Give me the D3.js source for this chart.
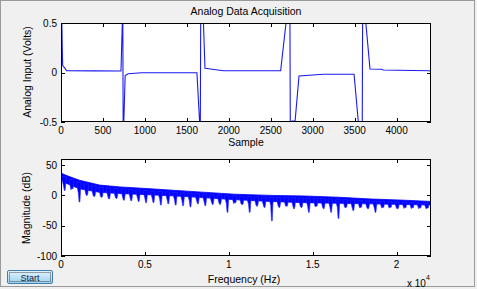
<!DOCTYPE html>
<html><head><meta charset="utf-8">
<script src="https://cdn.jsdelivr.net/npm/d3@7"></script>
<style>
html,body{margin:0;padding:0;background:#f0f0f0;}
svg{display:block;font-family:"Liberation Sans",Arial,sans-serif;}
</style></head><body>
<script>
// ---- data ----
const titleText = "Analog Data Acquisition";
const sampleIdx = [0, 4, 14, 20, 48, 66, 400, 715, 731, 736, 742, 745, 765, 800, 960, 1620, 1652, 1660, 1666, 1694, 1716, 1760, 1935, 2618, 2682, 2708, 2728, 2734, 2745, 2752, 2790, 2837, 3127, 3493, 3544, 3560, 3590, 3596, 3628, 3683, 3822, 3840, 4200, 4395, 4410];
const voltage   = [-0.8, 0.8, 0.3, 0.07, 0.042, 0.018, 0.016, 0.015, 0.5, 0.7, -0.8, -0.6, -0.03, -0.012, -0.003, -0.003, -0.5, -0.7, 0.8, 0.6, 0.042, 0.038, 0.018, 0.018, 0.5, 0.7, 0.7, -0.8, -0.6, -0.49, -0.49, -0.035, -0.018, -0.018, -0.5, -0.7, -0.7, 0.8, 0.55, 0.035, 0.033, 0.025, 0.02, 0.018, 0.008];
const sampleTicks = [0, 500, 1000, 1500, 2000, 2500, 3000, 3500, 4000];
const voltTicks = [-0.5, 0, 0.5];
const voltTickLabels = ["-0.5", "0", "0.5"];

// bottom plot: spectrum band envelope
const envFreq   = [0, 300, 1100, 2300, 3500, 5300, 7500, 10300, 12500, 14500, 16500, 18500, 20500, 22050];
const envTopDb  = [37, 33, 25, 17, 14, 11, 7, 2, 0, -1, -3, -6, -8, -10];
const envLowDb  = [27, 20, 11, 5, 3, 1, -2, -7, -10, -12, -13, -14, -15, -16];
// notches in the spectrum
const dipFreq = [220, 661, 1102, 1543, 1984, 2425, 2866, 3307, 3748, 4189, 4630, 5071, 5512, 5953, 6394, 6835, 7276, 7717, 8158, 8599, 9040, 9481, 9922, 10363, 10804, 11245, 11686, 12127, 12568, 13009, 13450, 13891, 14332, 14773, 15214, 15655, 16096, 16537, 16978, 17419, 17860, 18301, 18742, 19183, 19624, 20065, 20506, 20947, 21388, 21829];
const dipDb   = [8, 12, -11, 0, -2, -3, -6, -5, -8, -9, -10, -12, -12, -16, -14, -16, -17, -19, -14, -17, -15, -15, -28, -12, -15, -28, -18, -20, -42, -20, -18, -22, -20, -28, -18, -22, -28, -38, -20, -25, -20, -22, -28, -20, -18, -22, -18, -20, -18, -19];
const freqTicks = [0, 5000, 10000, 15000, 20000];
const freqTickLabels = ["0", "0.5", "1", "1.5", "2"];
const dbTicks = [-100, -50, 0, 50];
const dbTickLabels = ["-100", "-50", "0", "50"];

// ---- drawing ----
const W = 477, H = 289;
const svg = d3.select("body").append("svg").attr("width", W).attr("height", H);
svg.append("rect").attr("x",0).attr("y",0).attr("width",W).attr("height",H).attr("fill","#f0f0f0");
// window frame
svg.append("rect").attr("x",0.5).attr("y",0.5).attr("width",474).attr("height",286)
  .attr("fill","none").attr("stroke","#9a9a9a");

const P1 = {l:61, r:431, t:23, b:122};
const P2 = {l:61, r:431, t:159, b:256};
const tickLen = 4;

function frame(P, id){
  svg.append("rect").attr("x",P.l).attr("y",P.t).attr("width",P.r-P.l).attr("height",P.b-P.t).attr("fill","#fff");
  svg.append("clipPath").attr("id",id).append("rect").attr("x",P.l).attr("y",P.t).attr("width",P.r-P.l).attr("height",P.b-P.t);
}
function axesDecor(P, x, y, xt, xl, yt, yl){
  const g = svg.append("g").attr("font-size","10px").attr("fill","#000");
  xt.forEach((v,i)=>{
    const px = Math.round(x(v))+0.5;
    g.append("line").attr("x1",px).attr("x2",px).attr("y1",P.b).attr("y2",P.b-tickLen).attr("stroke","#000");
    g.append("line").attr("x1",px).attr("x2",px).attr("y1",P.t).attr("y2",P.t+tickLen).attr("stroke","#000");
    g.append("text").attr("x",x(v)).attr("y",P.b+12).attr("text-anchor","middle").text(xl[i]);
  });
  yt.forEach((v,i)=>{
    const py = Math.round(y(v))+0.5;
    g.append("line").attr("x1",P.l).attr("x2",P.l+tickLen).attr("y1",py).attr("y2",py).attr("stroke","#000");
    g.append("line").attr("x1",P.r).attr("x2",P.r-tickLen).attr("y1",py).attr("y2",py).attr("stroke","#000");
    g.append("text").attr("x",P.l-4).attr("y",y(v)+3.5).attr("text-anchor","end").text(yl[i]);
  });
  svg.append("rect").attr("x",P.l+0.5).attr("y",P.t+0.5).attr("width",P.r-P.l-1).attr("height",P.b-P.t-1)
    .attr("fill","none").attr("stroke","#000");
}

// top plot
frame(P1,"c1");
const x1 = d3.scaleLinear().domain([0,4410]).range([P1.l,P1.r]);
const y1 = d3.scaleLinear().domain([-0.5,0.5]).range([P1.b,P1.t]);
const sig = sampleIdx.map((s,i)=>[s,voltage[i]]);
svg.append("path").attr("clip-path","url(#c1)").datum(sig)
  .attr("d", d3.line().x(d=>x1(d[0])).y(d=>y1(d[1])))
  .attr("fill","none").attr("stroke","#1a1af0").attr("stroke-width",1.1);
axesDecor(P1,x1,y1,sampleTicks,sampleTicks.map(String),voltTicks,voltTickLabels);

// bottom plot
frame(P2,"c2");
const x2 = d3.scaleLinear().domain([0,22050]).range([P2.l,P2.r]);
const y2 = d3.scaleLinear().domain([-100,60]).range([P2.b,P2.t]);
const env = envFreq.map((f,i)=>({f, top:envTopDb[i], low:envLowDb[i]}));
const gSpec = svg.append("g").attr("clip-path","url(#c2)");
gSpec.append("path").datum(env)
  .attr("d", d3.area().x(d=>x2(d.f)).y0(d=>y2(d.low)).y1(d=>y2(d.top)))
  .attr("fill","#0000ff").attr("stroke","#0000ff").attr("stroke-width",0.8);
const interp = (arr, f) => {
  const i = Math.max(0, d3.bisectRight(envFreq,f)-1);
  const j = Math.min(i+1, envFreq.length-1);
  const t = j===i?0:(f-envFreq[i])/(envFreq[j]-envFreq[i]);
  return arr[i]+(arr[j]-arr[i])*t;
};
dipFreq.forEach((f,i)=>{
  const xc = x2(f);
  const ylow = y2(interp(envLowDb,f));
  const ytop = y2(interp(envTopDb,f));
  const ym = Math.max(y2(dipDb[i]), ylow + 3);
  // notch: wide shoulder below the band narrowing to a thin spike
  gSpec.append("path")
    .attr("d", `M${xc-3.2},${ytop+2}L${xc-1.2},${ylow+4}L${xc-0.4},${ym}L${xc+0.4},${ym}L${xc+1},${ylow+3}L${xc+1.8},${ytop+2}Z`)
    .attr("fill","#0000ff").attr("stroke","#2a2aff").attr("stroke-width",0.6);
});
axesDecor(P2,x2,y2,freqTicks,freqTickLabels,dbTicks,dbTickLabels);

// texts
svg.append("text").attr("x",246).attr("y",15).attr("text-anchor","middle").attr("font-size","10.5px").text(titleText);
svg.append("text").attr("x",246).attr("y",146).attr("text-anchor","middle").attr("font-size","10.5px").text("Sample");
svg.append("text").attr("transform","translate(31,72) rotate(-90)").attr("text-anchor","middle").attr("font-size","10.5px").text("Analog Input (Volts)");
svg.append("text").attr("transform","translate(30,208) rotate(-90)").attr("text-anchor","middle").attr("font-size","10.5px").text("Magnitude (dB)");
svg.append("text").attr("x",244).attr("y",283).attr("text-anchor","middle").attr("font-size","10.5px").text("Frequency (Hz)");
const ex = svg.append("text").attr("x",407).attr("y",287).attr("font-size","10px");
ex.append("tspan").text("x 10");
ex.append("tspan").attr("dy",-7).attr("font-size","7px").text("4");

// Start button
const defs = svg.append("defs");
const grad = defs.append("linearGradient").attr("id","btn").attr("x1",0).attr("x2",0).attr("y1",0).attr("y2",1);
grad.append("stop").attr("offset","0%").attr("stop-color","#e6f4fc");
grad.append("stop").attr("offset","50%").attr("stop-color","#bfe3f7");
grad.append("stop").attr("offset","100%").attr("stop-color","#9fd2ee");
svg.append("rect").attr("x",7.5).attr("y",270.5).attr("width",45).attr("height",13).attr("rx",1.5)
  .attr("fill","url(#btn)").attr("stroke","#3c7fb1");
svg.append("rect").attr("x",9.5).attr("y",272.5).attr("width",41).attr("height",9)
  .attr("fill","none").attr("stroke","#222").attr("stroke-dasharray","1,1").attr("stroke-width",0.8);
svg.append("text").attr("x",30).attr("y",280.5).attr("text-anchor","middle").attr("font-size","9px").attr("fill","#102040").text("Start");
</script>
</body></html>
